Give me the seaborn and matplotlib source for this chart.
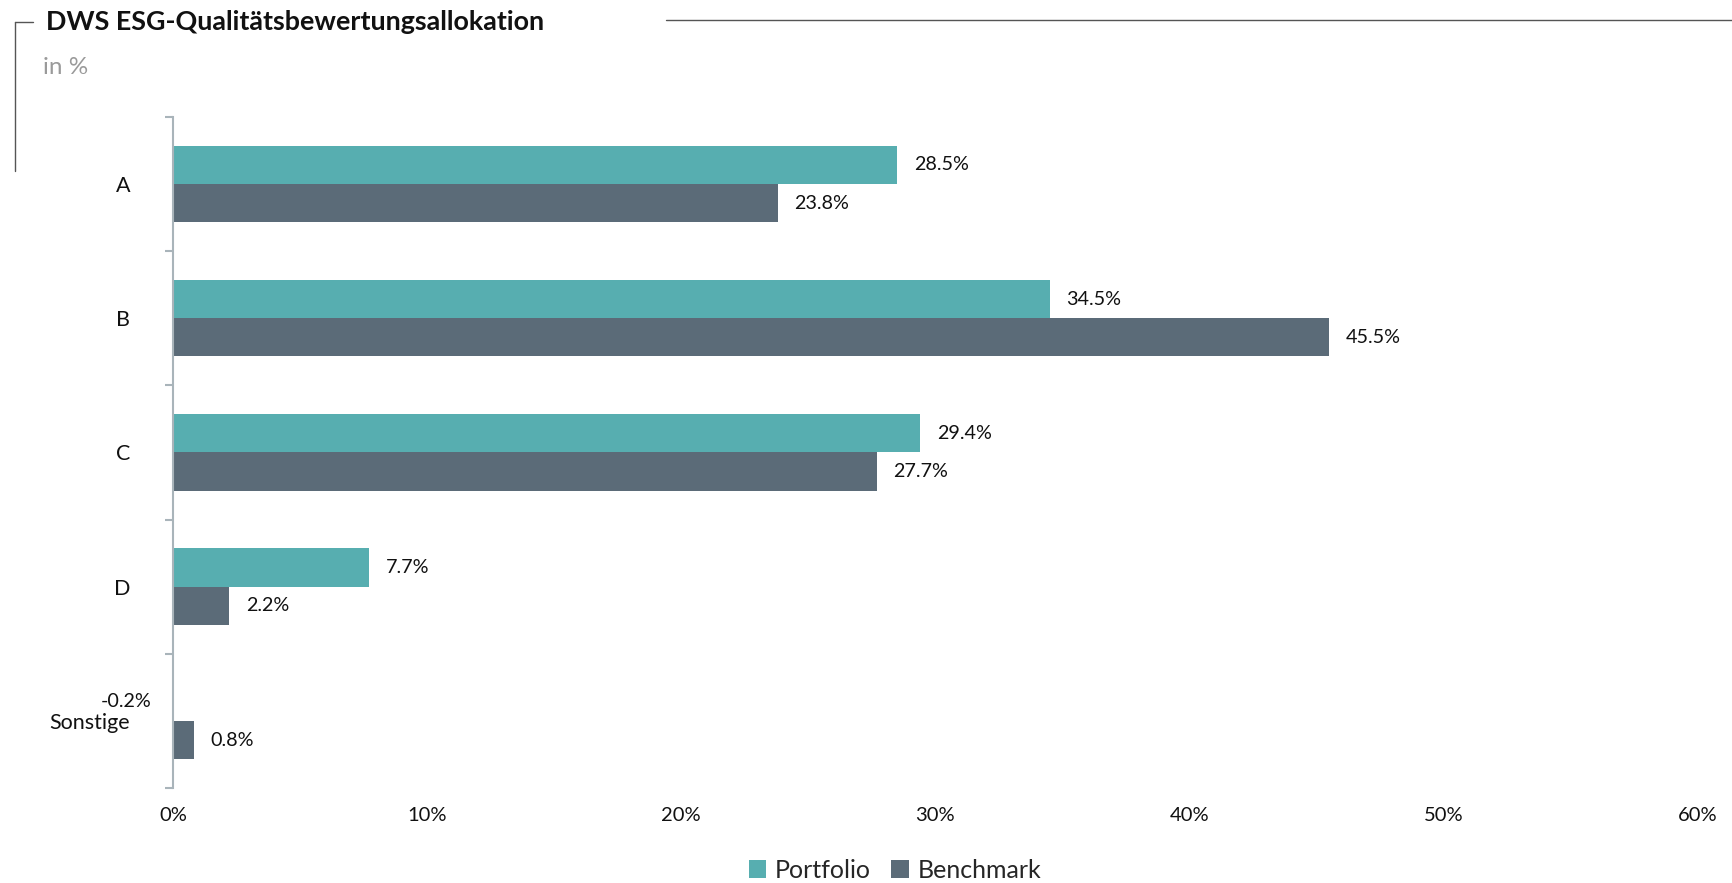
import matplotlib
matplotlib.use("Agg")
import matplotlib.pyplot as plt
import numpy as np
import pandas as pd
import seaborn as sns
from matplotlib.lines import Line2D
from matplotlib.patches import Patch

categories = ['A', 'B', 'C', 'D', 'Sonstige']
portfolio = [28.5, 34.5, 29.4, 7.7, -0.2]
benchmark = [23.8, 45.5, 27.7, 2.2, 0.8]
series = ['Portfolio', 'Benchmark']
colors = ['#57AEB0', '#5B6B78']
xticks = [0, 10, 20, 30, 40, 50, 60]

df = pd.DataFrame({
    'Kategorie': categories * 2,
    'Wert': portfolio + benchmark,
    'Serie': [series[0]] * len(categories) + [series[1]] * len(categories),
})

sns.set_style('white')
plt.rcParams['font.family'] = ['Lato', 'DejaVu Sans']

fig = plt.figure(figsize=(17.32, 8.83), dpi=100)
ax = fig.add_axes([0.1, 0.1076, 0.88, 0.76])

sns.barplot(data=df, y='Kategorie', x='Wert', hue='Serie', orient='h',
            palette=colors, saturation=1, width=0.57, gap=0, ax=ax, legend=False,
            edgecolor='none', linewidth=0)

for cont in ax.containers:
    ax.bar_label(cont, labels=[f'{v:.1f}%' for v in cont.datavalues],
                 padding=12, fontsize=14.2, color='#111111', annotation_clip=False)

ax.set_xlim(0, 60)
ax.set_xticks(xticks)
ax.set_xticklabels([f'{t}%' for t in xticks], fontsize=14.5, color='#111111')
ax.set_xlabel('')
ax.set_ylabel('')
ax.set_ylim(4.5, -0.5)
ax.set_yticks(range(len(categories)))
ax.set_yticklabels(categories, fontsize=15.5, color='#111111')

for s in ['top', 'right', 'bottom']:
    ax.spines[s].set_visible(False)
ax.spines['left'].set_color('#A9B4BA')
ax.spines['left'].set_linewidth(1.5)
ax.tick_params(axis='x', length=0, pad=14)
ax.tick_params(axis='y', which='major', length=0, pad=31)
ax.set_yticks(np.arange(-0.5, len(categories), 1), minor=True)
ax.tick_params(axis='y', which='minor', left=True, length=6, width=1.5,
               color='#A9B4BA', direction='out')

# Title frame
fig.text(46 / 1732, 1 - 22 / 883, 'DWS ESG-Qualitätsbewertungsallokation',
         fontsize=19.4, fontweight='bold', va='center', ha='left', color='#111111')
fig.text(43 / 1732, 1 - 67 / 883, 'in %', fontsize=17.5, va='center', ha='left', color='#9A9A9A')
fig.add_artist(Line2D([15 / 1732, 33 / 1732], [1 - 22 / 883, 1 - 22 / 883],
                      color='#555555', lw=1, transform=fig.transFigure))
fig.add_artist(Line2D([15 / 1732, 15 / 1732], [1 - 22 / 883, 1 - 171 / 883],
                      color='#555555', lw=1, transform=fig.transFigure))
fig.add_artist(Line2D([666 / 1732, 1.0], [1 - 20 / 883, 1 - 20 / 883],
                      color='#555555', lw=1, transform=fig.transFigure))

handles = [Patch(facecolor=c, edgecolor='none') for c in colors]
fig.legend(handles, series, loc='center', bbox_to_anchor=(895 / 1732, 1 - 870 / 883),
           ncol=2, frameon=False, fontsize=18, handlelength=0.7, handleheight=0.7,
           handletextpad=0.35, columnspacing=0.8)

fig.savefig('out.png', dpi=100)
